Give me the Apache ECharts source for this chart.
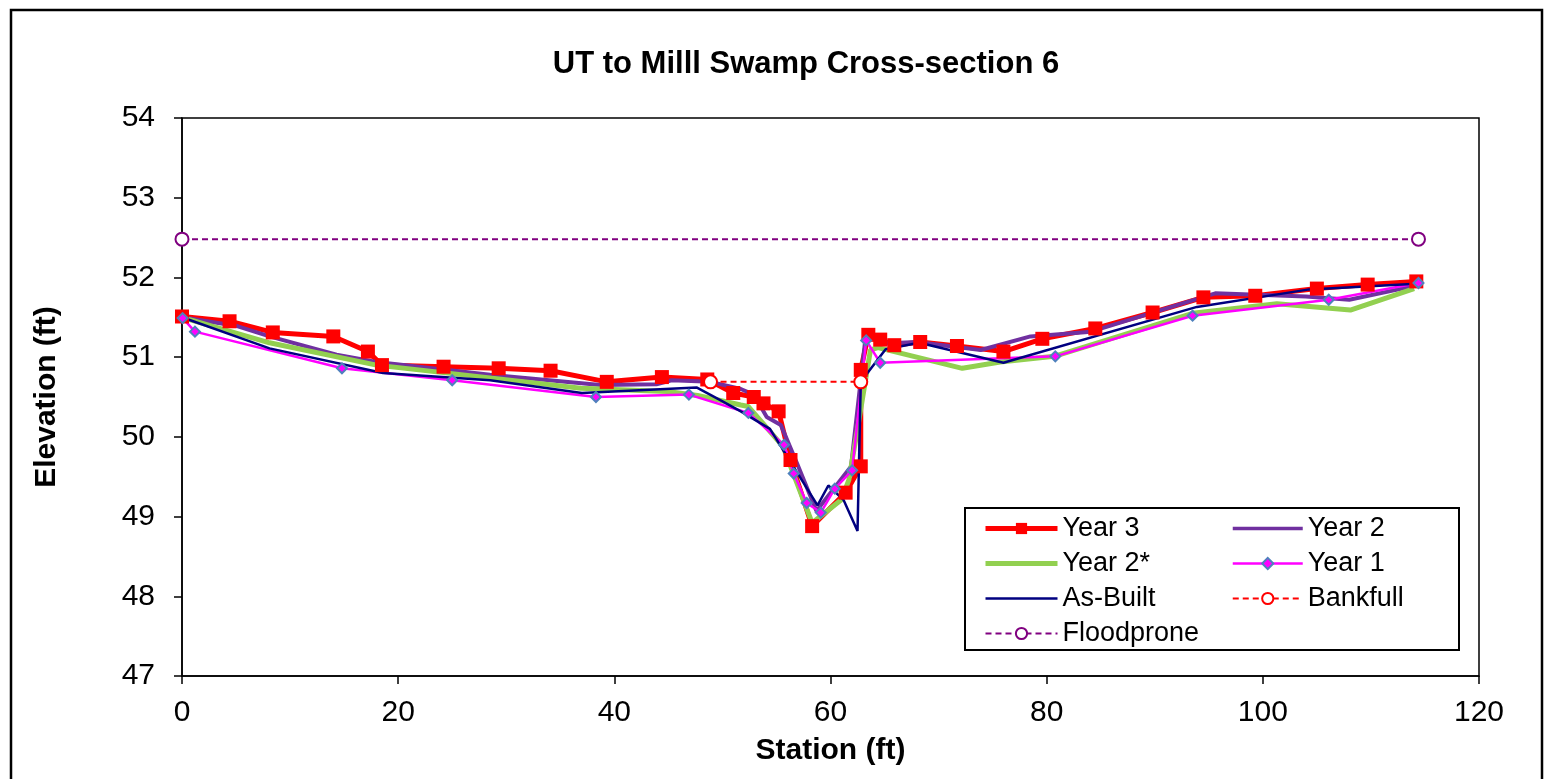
<!DOCTYPE html>
<html>
<head>
<meta charset="utf-8">
<script src="https://cdn.jsdelivr.net/npm/echarts@6/dist/echarts.min.js"></script>
<style>html,body{margin:0;padding:0;background:#fff}#c{width:1545px;height:779px}</style>
</head>
<body>
<div id="c"></div>
<script>
const titleText = 'UT to Milll Swamp Cross-section 6';
const xAxisName = 'Station (ft)';
const yAxisName = 'Elevation (ft)';

const year3X = [0,4.4,8.4,14.0,17.2,18.5,24.2,29.3,34.1,39.3,44.4,48.6,51.0,52.9,53.8,55.2,56.3,58.3,61.4,62.8,62.8,63.5,64.6,65.9,68.3,71.7,76.0,79.6,84.5,89.8,94.5,99.3,105.0,109.7,114.2];
const year3Y = [51.51,51.45,51.31,51.26,51.07,50.90,50.88,50.86,50.83,50.69,50.75,50.72,50.55,50.50,50.42,50.32,49.71,48.88,49.30,49.63,50.84,51.28,51.22,51.15,51.19,51.14,51.07,51.23,51.36,51.56,51.75,51.77,51.86,51.91,51.95];

const year2X = [0,5.1,8.1,14.3,18.0,28.5,38.7,43.9,45.3,48.9,51.7,52.9,54.1,55.4,56.9,58.7,61.9,63.3,64.9,68.0,73.9,78.5,84.1,95.6,104.0,108.0,114.3];
const year2Y = [51.50,51.39,51.26,51.03,50.94,50.78,50.65,50.66,50.71,50.69,50.60,50.53,50.25,50.15,49.67,49.07,49.63,51.32,51.17,51.19,51.09,51.26,51.32,51.80,51.76,51.72,51.90];

const year2sX = [0,8.1,18.0,28.5,36.9,44.9,47.7,51.7,52.4,55.6,58.3,61.0,61.7,62.5,63.7,64.4,72.2,75.7,80.7,93.5,101.3,108.1,114.0];
const year2sY = [51.50,51.18,50.90,50.74,50.61,50.57,50.52,50.40,50.38,49.88,48.92,49.21,49.46,50.10,51.09,51.12,50.86,50.94,51.01,51.55,51.67,51.59,51.86];

const year1X = [0.06,1.2,14.8,25.0,38.3,46.9,52.4,55.7,56.6,57.8,59.1,60.4,62.0,63.3,64.6,80.8,93.5,106.1,114.4];
const year1Y = [51.49,51.32,50.86,50.71,50.50,50.53,50.30,49.90,49.54,49.17,49.05,49.35,49.58,51.21,50.93,51.01,51.52,51.72,51.93];

const asBuiltX = [0,8.1,18.6,28.5,37.0,47.6,49.8,51.7,54.4,58.8,59.8,61.2,62.5,62.8,65.1,68.2,76.0,93.9,104.3,114.2];
const asBuiltY = [51.50,51.11,50.80,50.71,50.55,50.62,50.46,50.32,50.10,49.14,49.39,49.21,48.82,50.69,51.10,51.18,50.93,51.63,51.85,51.92];

const bankfullX = [48.9,62.8];
const bankfullY = [50.69,50.69];

const floodproneX = [0,114.4];
const floodproneY = [52.48,52.48];

const xTicks = [0,20,40,60,80,100,120];
const yTicks = [47,48,49,50,51,52,53,54];

function zip(xs, ys){ return xs.map((x,i)=>[x, ys[i]]); }

const FONT = '"Liberation Sans", Arial, sans-serif';
const chart = echarts.init(document.getElementById('c'));

const legendText = {fontFamily: FONT, fontSize: 27, color:'#000', lineHeight: 26};
const hidden = {opacity: 0};

chart.setOption({
  animation: false,
  backgroundColor: '#fff',
  title: {
    text: titleText,
    left: 801, top: 44, textAlign: 'center',
    textStyle: {fontFamily: FONT, fontSize: 31, fontWeight: 'bold', color: '#000'}
  },
  graphic: [
    {type:'rect', z: 0, silent:true, shape:{x:11,y:10,width:1531,height:820}, style:{fill:'none', stroke:'#000', lineWidth:2.5}},
    {type:'rect', z: 3, silent:true, shape:{x:965,y:508,width:494,height:142}, style:{fill:'#fff', stroke:'#000', lineWidth:2}}
  ],
  grid: {left:182, top:118, right:66, bottom:103, show:true, borderColor:'#000', borderWidth:1.5, backgroundColor:'transparent'},
  xAxis: {
    type:'value', min:0, max:120, interval:20,
    name: xAxisName, nameLocation:'middle', nameGap: 60,
    nameTextStyle:{fontFamily:FONT, fontSize:30, fontWeight:'bold', color:'#000'},
    axisLine:{show:true, onZero:false, lineStyle:{color:'#000', width:1.5}},
    axisTick:{show:true, length:8, lineStyle:{color:'#000', width:1.5}},
    axisLabel:{fontFamily:FONT, fontSize:30, color:'#000', margin:22,
      formatter: v => xTicks.includes(v) ? String(v) : ''},
    splitLine:{show:false}
  },
  yAxis: {
    type:'value', min:47, max:54, interval:1,
    name: yAxisName, nameLocation:'middle', nameGap: 120, nameRotate: 90,
    nameTextStyle:{fontFamily:FONT, fontSize:30, fontWeight:'bold', color:'#000'},
    axisLine:{show:true, onZero:false, lineStyle:{color:'#000', width:1.5}},
    axisTick:{show:true, length:8, lineStyle:{color:'#000', width:1.5}},
    axisLabel:{fontFamily:FONT, fontSize:30, color:'#000', margin:27,
      formatter: v => yTicks.includes(v) ? String(v) : ''},
    splitLine:{show:false}
  },
  legend: [
    {
      orient:'vertical', left:983, top:515, padding:0, itemWidth:72, itemHeight:14, itemGap:8,
      data:[
        {name:'Year 3', lineStyle:{width:5}},
        {name:'Year 2*', lineStyle:{width:5}, itemStyle:hidden},
        {name:'As-Built', lineStyle:{width:2.5}, itemStyle:hidden},
        {name:'Floodprone', lineStyle:{width:2}}
      ],
      textStyle: legendText, z: 5
    },
    {
      orient:'vertical', left:1231, top:515, padding:0, itemWidth:70, itemHeight:14, itemGap:8,
      data:[
        {name:'Year 2', lineStyle:{width:3.5}, itemStyle:hidden},
        {name:'Year 1', lineStyle:{width:2.5}, itemStyle:{color:'#FF00FF', borderColor:'#4F81BD', borderWidth:2}},
        {name:'Bankfull', lineStyle:{width:2}}
      ],
      textStyle: legendText, z: 5
    }
  ],
  series: [
    {name:'Year 3', type:'line', data:zip(year3X, year3Y), symbol:'rect', symbolSize:14,
      itemStyle:{color:'#FF0000'}, lineStyle:{color:'#FF0000', width:5}, z:2},
    {name:'Year 2', type:'line', data:zip(year2X, year2Y), symbol:'none',
      itemStyle:{color:'#7030A0'}, lineStyle:{color:'#7030A0', width:4}, z:2},
    {name:'Year 2*', type:'line', data:zip(year2sX, year2sY), symbol:'none',
      itemStyle:{color:'#92D050'}, lineStyle:{color:'#92D050', width:5}, z:2},
    {name:'Year 1', type:'line', data:zip(year1X, year1Y), symbol:'diamond', symbolSize:10,
      itemStyle:{color:'#FF00FF', borderColor:'#4F81BD', borderWidth:2}, lineStyle:{color:'#FF00FF', width:2.5}, z:2},
    {name:'As-Built', type:'line', data:zip(asBuiltX, asBuiltY), symbol:'none',
      itemStyle:{color:'#000080'}, lineStyle:{color:'#000080', width:2.5}, z:2},
    {name:'Bankfull', type:'line', data:zip(bankfullX, bankfullY), symbol:'emptyCircle', symbolSize:13,
      itemStyle:{color:'#FF0000', borderWidth:2}, lineStyle:{color:'#FF0000', width:2, type:[6,4]}, z:2},
    {name:'Floodprone', type:'line', data:zip(floodproneX, floodproneY), symbol:'emptyCircle', symbolSize:13,
      itemStyle:{color:'#800080', borderWidth:1.5}, lineStyle:{color:'#800080', width:2, type:[6,4]}, z:2}
  ]
});
</script>
</body>
</html>
